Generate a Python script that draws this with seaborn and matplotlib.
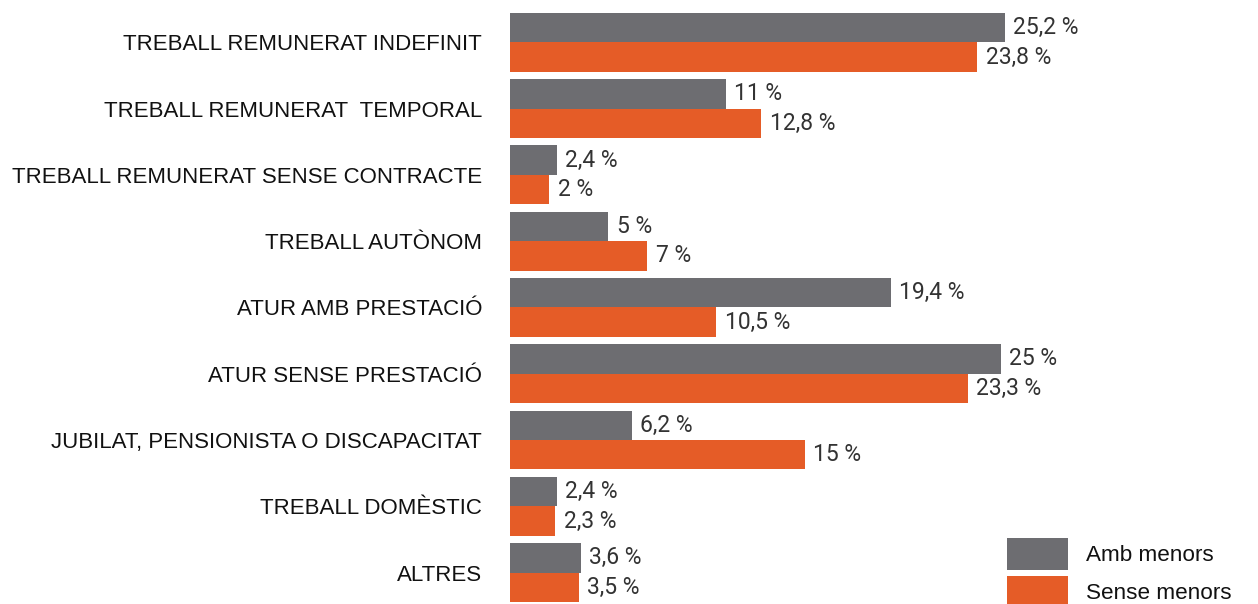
import pandas as pd
import matplotlib.pyplot as plt
import seaborn as sns
from matplotlib.patches import Patch

# values (percent)
categories = [
    "TREBALL REMUNERAT INDEFINIT",
    "TREBALL REMUNERAT  TEMPORAL",
    "TREBALL REMUNERAT SENSE CONTRACTE",
    "TREBALL AUTÒNOM",
    "ATUR AMB PRESTACIÓ",
    "ATUR SENSE PRESTACIÓ",
    "JUBILAT, PENSIONISTA O DISCAPACITAT",
    "TREBALL DOMÈSTIC",
    "ALTRES",
]
amb_menors = [25.2, 11, 2.4, 5, 19.4, 25, 6.2, 2.4, 3.6]
sense_menors = [23.8, 12.8, 2, 7, 10.5, 23.3, 15, 2.3, 3.5]
series_names = ["Amb menors", "Sense menors"]
colors = ["#6d6d71", "#e55c27"]

df = pd.DataFrame({
    "categoria": categories * 2,
    "valor": amb_menors + sense_menors,
    "grup": [series_names[0]] * len(categories) + [series_names[1]] * len(categories),
})

sns.set_theme(style="white")
plt.rcParams["font.family"] = ["Liberation Sans", "DejaVu Sans"]

W, H = 1258, 604
fig = plt.figure(figsize=(W / 100, H / 100), dpi=100)
ax = fig.add_axes([510 / W, 0, 1 - 510 / W, 1])

sns.barplot(data=df, y="categoria", x="valor", hue="grup", orient="h",
            palette=colors, width=0.89, gap=0, ax=ax, legend=False,
            saturation=1, linewidth=0)

ax.set_xlim(0, (W - 510) / 19.64)
ax.set_ylim(8.475, -0.64)
ax.set_xlabel("")
ax.set_ylabel("")
ax.set_xticks([])
sns.despine(ax=ax, left=True, bottom=True)
ax.tick_params(axis="y", length=0, pad=20, labelsize=16)
for lbl in ax.get_yticklabels():
    lbl.set_color("#111111")

def fmt(v):
    return f"{v:g}".replace(".", ",") + " %"

for cont in ax.containers:
    ax.bar_label(cont, labels=[fmt(b.get_width()) for b in cont], padding=6,
                 fontsize=16.5, color="#333333",
                 family=["Roboto", "DejaVu Sans"])

handles = [Patch(facecolor=c, edgecolor="none") for c in colors]
fig.legend(handles, series_names, loc="upper left",
           bbox_to_anchor=(1007 / W, 1 - 538 / H), frameon=False,
           fontsize=16.2, handlelength=2.7, handleheight=1.8,
           handletextpad=0.8, labelspacing=0.28, borderpad=0,
           borderaxespad=0, labelcolor="#111111")

fig.savefig("out.png", dpi=100)
